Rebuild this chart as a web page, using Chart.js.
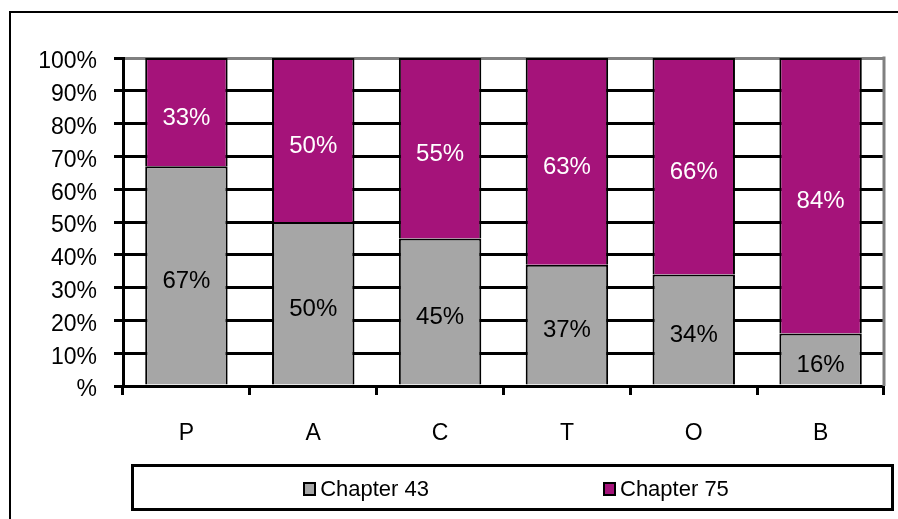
<!DOCTYPE html>
<html>
<head>
<meta charset="utf-8">
<script src="https://cdn.jsdelivr.net/npm/chart.js@4.4.0/dist/chart.umd.min.js"></script>
<style>
  body { margin: 0; background: #fff; }
  #wrap { position: relative; width: 898px; height: 519px; overflow: hidden; }
  #frame { position: absolute; left: 9px; top: 11px; width: 900px; height: 520px; border: 2.5px solid #000; box-sizing: border-box; }
  #chart { position: absolute; left: 0; top: 0; }
  #legend {
    position: absolute; left: 131px; top: 464px; width: 763px; height: 47px;
    border: 3px solid #000; box-sizing: border-box;
    display: flex; align-items: center; justify-content: center; gap: 174px;
    padding-left: 7px; padding-top: 3px;
    font-family: 'Liberation Sans', Arial, sans-serif; font-size: 22px; color: #000;
  }
  .item { display: flex; align-items: center; }
  .swatch { width: 9px; height: 10px; border: 2.5px solid #000; margin-right: 4px; }
</style>
</head>
<body>
<div id="wrap">
  <div id="frame"></div>
  <canvas id="chart" width="898" height="519"></canvas>
  <div id="legend"></div>
</div>
<script>
const categories = ['P', 'A', 'C', 'T', 'O', 'B'];
const chapter43 = [67, 50, 45, 37, 34, 16];
const chapter75 = [33, 50, 55, 63, 66, 84];
const yTicks = [0, 10, 20, 30, 40, 50, 60, 70, 80, 90, 100];

const grey = '#A6A6A6';
const plum = '#A5137A';
const font = "'Liberation Sans', Arial, sans-serif";

// labels inside each stacked segment (sitting a little below the middle)
const segmentLabels = {
    id: 'segmentLabels',
    afterDatasetsDraw(chart) {
        const ctx = chart.ctx;
        ctx.save();
        ctx.font = '24px ' + font;
        ctx.textAlign = 'center';
        ctx.textBaseline = 'middle';
        chart.data.datasets.forEach((ds, i) => {
            const meta = chart.getDatasetMeta(i);
            ctx.fillStyle = ds.labelColor;
            meta.data.forEach((bar, j) => {
                const mid = (bar.y + bar.base) / 2;
                ctx.fillText(ds.data[j] + '%', bar.x, mid + 6);
            });
        });
        ctx.restore();
    }
};

// grey right edge of the plot area
const plotFrame = {
    id: 'plotFrame',
    beforeDatasetsDraw(chart) {
        const a = chart.chartArea;
        const ctx = chart.ctx;
        ctx.save();
        ctx.strokeStyle = '#808080';
        ctx.lineWidth = 3;
        ctx.beginPath();
        ctx.moveTo(a.right, a.top - 1.5);
        ctx.lineTo(a.right, a.bottom);
        ctx.stroke();
        ctx.restore();
    }
};

const chart = new Chart(document.getElementById('chart'), {
    type: 'bar',
    data: {
        labels: categories,
        datasets: [
            { label: 'Chapter 43', data: chapter43, backgroundColor: grey, borderColor: '#000', borderWidth: 2, labelColor: '#000' },
            { label: 'Chapter 75', data: chapter75, backgroundColor: plum, borderColor: '#000', borderWidth: 2, labelColor: '#fff' }
        ]
    },
    options: {
        responsive: false,
        animation: false,
        layout: { padding: { top: 58, right: 14, bottom: 73, left: 0 } },
        datasets: { bar: { categoryPercentage: 1, barPercentage: 0.65 } },
        plugins: { legend: { display: false }, tooltip: { enabled: false } },
        scales: {
            x: {
                stacked: true,
                afterFit: s => { s.height = 60; },
                border: { color: '#000', width: 3 },
                grid: { offset: true, drawOnChartArea: false, drawTicks: true, tickLength: 9, tickColor: '#000', tickWidth: 3 },
                ticks: { color: '#000', font: { family: font, size: 23 }, padding: 25 }
            },
            y: {
                stacked: true,
                min: 0,
                max: 100,
                afterFit: s => { s.width = 123; },
                afterBuildTicks: s => { s.ticks = yTicks.map(v => ({ value: v })); },
                border: { color: '#000', width: 3 },
                grid: {
                    color: c => (c.tick && c.tick.value === 100 ? '#808080' : '#000'),
                    lineWidth: 3,
                    tickLength: 9,
                    tickColor: '#000',
                    tickWidth: 3
                },
                ticks: {
                    color: '#000',
                    font: { family: font, size: 23 },
                    padding: 17,
                    labelOffset: 4,
                    callback: v => (v === 0 ? '%' : v + '%')
                }
            }
        }
    },
    plugins: [segmentLabels, plotFrame]
});

// html legend built from the datasets
const legendEl = document.getElementById('legend');
chart.data.datasets.forEach(ds => {
    const item = document.createElement('div');
    item.className = 'item';
    const sw = document.createElement('span');
    sw.className = 'swatch';
    sw.style.background = ds.backgroundColor;
    const txt = document.createElement('span');
    txt.textContent = ds.label;
    item.appendChild(sw);
    item.appendChild(txt);
    legendEl.appendChild(item);
});
</script>
</body>
</html>
